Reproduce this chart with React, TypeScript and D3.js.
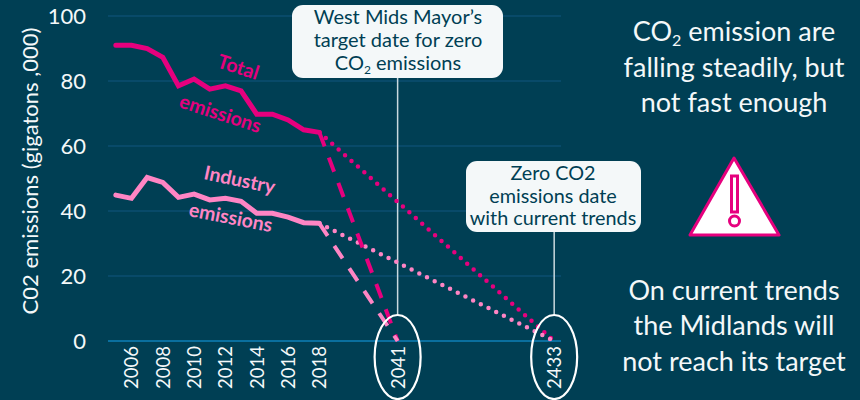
import * as d3 from 'd3'

// slots on the category axis, blanks keep the gaps before 2041 and 2433
const categories = [
  '2005', '2006', '2007', '2008', '2009', '2010', '2011', '2012', '2013', '2014', '2015', '2016', '2017', '2018',
  'a', 'b', 'c', 'd', '2041',
  'e', 'f', 'g', 'h', 'i', 'j', 'k', 'l', 'm', '2433',
]
const years = categories.slice(0, 14)
const xTickLabels = ['2006', '2008', '2010', '2012', '2014', '2016', '2018', '2041', '2433']
const yTicks = [0, 20, 40, 60, 80, 100]

const totalEmissions = [91, 91, 90, 87.3, 78.5, 80.6, 77.5, 78.5, 77, 69.8, 69.8, 68, 65, 64.2]
const industryEmissions = [44.9, 43.9, 50.3, 48.8, 44.2, 45.2, 43.4, 43.9, 43, 39.3, 39.3, 38.1, 36.4, 36.2]

const targetYear = '2041'
const trendYear = '2433'

const BG = '#003f54'
const GRID = '#0b4f70'
const AXIS = '#0a6f9e'
const PINK = '#e6007e'
const LIGHT_PINK = '#ff85c4'
const WHITE = '#f4f8f9'
const FONT = 'Lato, "Open Sans", sans-serif'

type Pt = { year: string; value: number }

const toPoints = (values: number[]): Pt[] => values.map((value, i) => ({ year: years[i], value }))

export default function App() {
  const x = d3.scaleBand<string>().domain(categories).range([108, 562])
  const y = d3.scaleLinear().domain([0, 100]).range([341, 16])
  const cx = (year: string) => (x(year) as number) + x.bandwidth() / 2

  const line = d3.line<Pt>().x(d => cx(d.year)).y(d => y(d.value))

  const projection = (from: number, to: string) =>
    line([{ year: '2018', value: from }, { year: to, value: 0 }]) as string

  const total = totalEmissions[totalEmissions.length - 1]
  const industry = industryEmissions[industryEmissions.length - 1]

  return (
    <svg
      width={860}
      height={400}
      style={{ position: 'absolute', left: 0, top: 0, display: 'block', background: BG, fontFamily: FONT }}
    >
      {/* grid */}
      {yTicks.map(t => (
        <g key={t}>
          <line
            x1={108}
            x2={561}
            y1={y(t)}
            y2={y(t)}
            stroke={t === 0 ? AXIS : GRID}
            strokeWidth={t === 0 ? 2 : 1.5}
          />
          <text x={86} y={y(t) + 8} textAnchor="end" fontSize={22} fill={WHITE}>
            {t}
          </text>
        </g>
      ))}

      <text
        transform="translate(38,171) rotate(-90)"
        textAnchor="middle"
        fontSize={22}
        fill={WHITE}
      >
        C02 emissions (gigatons ,000)
      </text>

      {/* x labels */}
      {xTickLabels.map(l => (
        <text
          key={l}
          transform={`translate(${cx(l) + 7},389) rotate(-90)`}
          fontSize={18.5}
          fill={WHITE}
        >
          {l}
        </text>
      ))}

      {/* leader lines and callouts */}
      <line x1={cx(targetYear)} x2={cx(targetYear)} y1={78} y2={315} stroke="#c9d9df" strokeWidth={1.5} />
      <line x1={cx(trendYear)} x2={cx(trendYear)} y1={232} y2={315} stroke="#c9d9df" strokeWidth={1.5} />

      {/* projections */}
      <path d={projection(total, trendYear)} fill="none" stroke={PINK} strokeWidth={4.5} strokeLinecap="round" strokeDasharray="0 8.6" />
      <path d={projection(industry, trendYear)} fill="none" stroke={LIGHT_PINK} strokeWidth={4.5} strokeLinecap="round" strokeDasharray="0 8.6" />
      <path d={projection(total, targetYear)} fill="none" stroke={PINK} strokeWidth={4} strokeDasharray="15 12" />
      <path d={projection(industry, targetYear)} fill="none" stroke={LIGHT_PINK} strokeWidth={4} strokeDasharray="15 12" />

      {/* series */}
      <path d={line(toPoints(totalEmissions)) as string} fill="none" stroke={PINK} strokeWidth={5} strokeLinecap="round" />
      <path d={line(toPoints(industryEmissions)) as string} fill="none" stroke={LIGHT_PINK} strokeWidth={5} strokeLinecap="round" />

      <rect x={292} y={5} width={211} height={73} rx={11} fill={WHITE} />
      <g textAnchor="middle" fontSize={20} fill={BG}>
        <text x={398} y={24}>West Mids Mayor’s</text>
        <text x={398} y={47}>target date for zero</text>
        <text x={398} y={70}>
          CO<tspan fontSize={12} dy={4}>2</tspan>
          <tspan dy={-4}> emissions</tspan>
        </text>
      </g>

      <rect x={466} y={161} width={175} height={71} rx={11} fill={WHITE} />
      <g textAnchor="middle" fontSize={19.8} fill={BG}>
        <text x={553} y={180}>Zero CO2</text>
        <text x={553} y={203}>emissions date</text>
        <text x={553} y={225}>with current trends</text>
      </g>

      {/* circled end dates */}
      <ellipse cx={cx(targetYear)} cy={357} rx={23} ry={42} fill="none" stroke="#ffffff" strokeWidth={2.2} />
      <ellipse cx={cx(trendYear)} cy={357} rx={23} ry={42} fill="none" stroke="#ffffff" strokeWidth={2.2} />

      {/* series labels */}
      <g fontWeight={700} fontSize={19.5}>
        <text transform="translate(216,67) rotate(18)" fill={PINK}>Total</text>
        <text transform="translate(178,107) rotate(18)" fill={PINK}>emissions</text>
        <text transform="translate(203,179) rotate(12)" fill={LIGHT_PINK}>Industry</text>
        <text transform="translate(188,216) rotate(11)" fill={LIGHT_PINK}>emissions</text>
      </g>

      {/* right hand commentary */}
      <g textAnchor="middle" fontSize={27} fill={WHITE}>
        <text x={734} y={41}>
          CO<tspan fontSize={16} dy={5}>2</tspan>
          <tspan dy={-5}> emission are</tspan>
        </text>
        <text x={734} y={77}>falling steadily, but</text>
        <text x={734} y={112}>not fast enough</text>
        <text x={734} y={300}>On current trends</text>
        <text x={734} y={335}>the Midlands will</text>
        <text x={734} y={371}>not reach its target</text>
      </g>

      {/* warning sign */}
      <path d="M734,158 L779,235 L690,235 Z" fill="#ffffff" stroke={PINK} strokeWidth={3} strokeLinejoin="round" />
      <rect x={731.5} y={176} width={6} height={36} fill="#ffffff" stroke={PINK} strokeWidth={3} />
      <circle cx={734.5} cy={221} r={5} fill="#ffffff" stroke={PINK} strokeWidth={3} />
    </svg>
  )
}
